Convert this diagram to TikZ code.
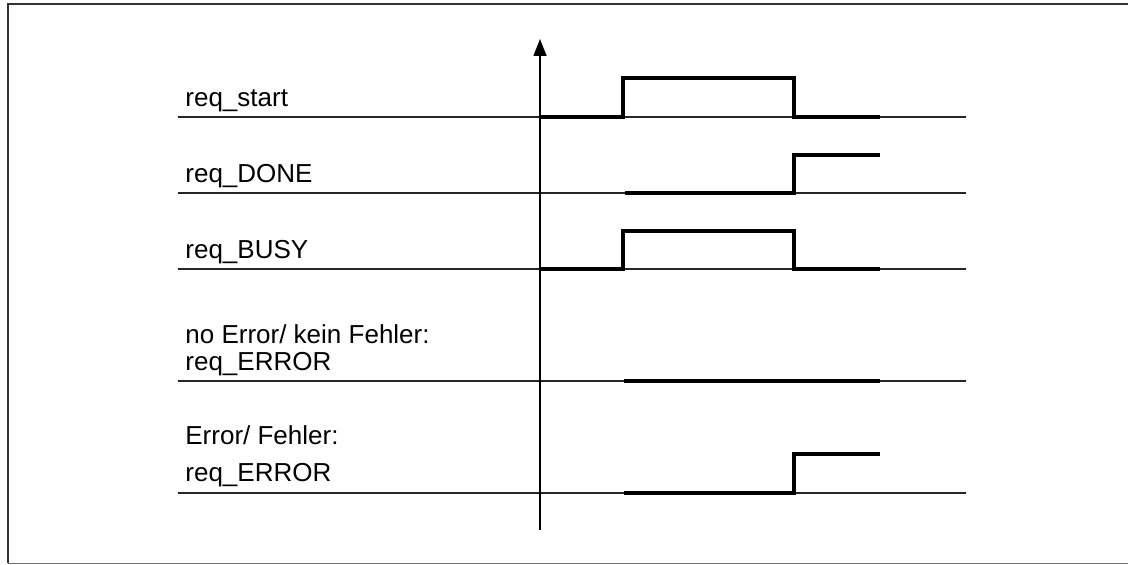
\documentclass[tikz,border=0pt]{standalone}
\usepackage{fontspec}
\setmainfont{Liberation Sans}
\usepackage{tikz}
\usetikzlibrary{arrows.meta,positioning,calc}
\tikzset{
  track/.style={line width=0.7pt, draw=black!85},
  wave/.style={line width=1.6pt, line join=miter, line cap=butt},
  siglabel/.style={anchor=base west, inner sep=0pt, font=\fontsize{13}{15}\selectfont},
  timeaxis/.style={-{Triangle[length=8.5pt, width=6.5pt]}, line width=0.7pt},
  frame/.style={line width=1.3pt, draw=black!80}
}

\begin{document}
\begin{tikzpicture}[x=0.5pt, y=-0.5pt]
\useasboundingbox (0,0) rectangle (1128,565);
\draw[frame] (1140,4) -- (8,4) -- (8,563);
\draw[line width=0.6pt, draw=black!55] (8,563.5) -- (1140,563.5);

% track lines
\foreach \y in {117,193,269,381,493}
  \draw[track] (178,\y) -- (966,\y);

% labels
\node[siglabel] (lstart) at (185,107) {req\_start};
\node[siglabel] (ldone) at (185,183) {req\_DONE};
\node[siglabel] (lbusy) at (185,259) {req\_BUSY};
\node[siglabel] (lnoerrA) at (185,344) {no Error/ kein Fehler:};
\node[siglabel] (lnoerrB) at (185,371) {req\_ERROR};
\node[siglabel] (lerrA) at (185,445) {Error/ Fehler:};
\node[siglabel] (lerrB) at (185,482) {req\_ERROR};

% time axis
\coordinate (axbot) at (540,530);
\coordinate (axtop) at (540,39);
\draw[timeaxis] (axbot) -- (axtop);

% waveforms
\draw[wave] (540,117) -- (623,117) -- (623,78) -- (794,78) -- (794,117) -- (880,117);
\draw[wave] (625,193) -- (794,193) -- (794,155) -- (880,155);
\draw[wave] (540,269) -- (623,269) -- (623,231) -- (794,231) -- (794,269) -- (880,269);
\draw[wave] (624,381) -- (880,381);
\draw[wave] (624,493) -- (794,493) -- (794,454) -- (880,454);
\end{tikzpicture}
\end{document}
